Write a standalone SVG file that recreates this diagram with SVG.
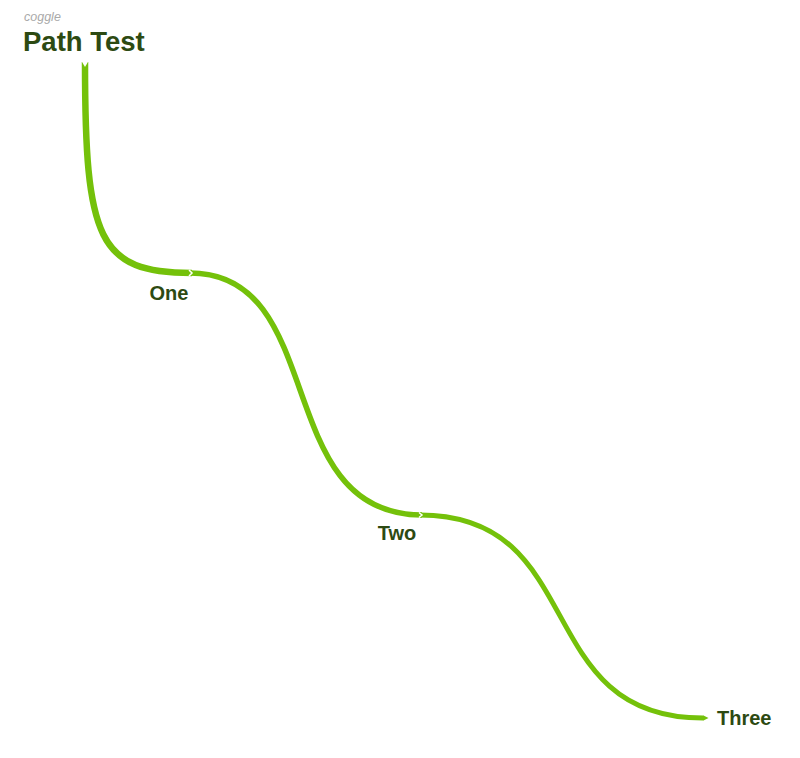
<svg xmlns="http://www.w3.org/2000/svg" width="800" height="758" viewBox="0 0 800 758">
<style>
.br{fill:none;stroke:#74c10a;stroke-linecap:butt}
.lbl{font-family:"Liberation Sans",Arial,sans-serif;font-weight:bold;fill:#2d4a12}
.notch{fill:none;stroke:#ffffff;stroke-width:1.5}
</style>
<rect width="800" height="758" fill="#ffffff"/>
<g id="root">
<text x="24" y="21" font-family="Liberation Sans,Arial,sans-serif" font-style="italic" font-size="12.5" fill="#aaaaaa">coggle</text>
<text class="lbl" x="23" y="51" font-size="27.5">Path Test</text>
</g>
<g id="connectors">
<path class="br" stroke-width="6.5" d="M85 62 C85 240 98 273 192 273"/>
<path class="br" stroke-width="5.5" d="M190 273 C330 273 270 515 422 515"/>
<path class="br" stroke-width="5" d="M420 515 C590 515 530 718 703 718"/>
<path d="M703 715.3 L708.5 718 L703 720.7 Z" fill="#74c10a"/>
<path d="M81.5 61 L85 67 L88.5 61 Z" fill="#ffffff"/>
<path class="notch" d="M189 270 L192 273 L189 276"/>
<path class="notch" d="M419 512.5 L422 515 L419 517.5"/>
</g>
<g id="one"><text class="lbl" x="169" y="300" font-size="20" text-anchor="middle">One</text></g>
<g id="two"><text class="lbl" x="397" y="540" font-size="20" text-anchor="middle">Two</text></g>
<g id="three"><text class="lbl" x="717" y="725" font-size="20">Three</text></g>
</svg>
